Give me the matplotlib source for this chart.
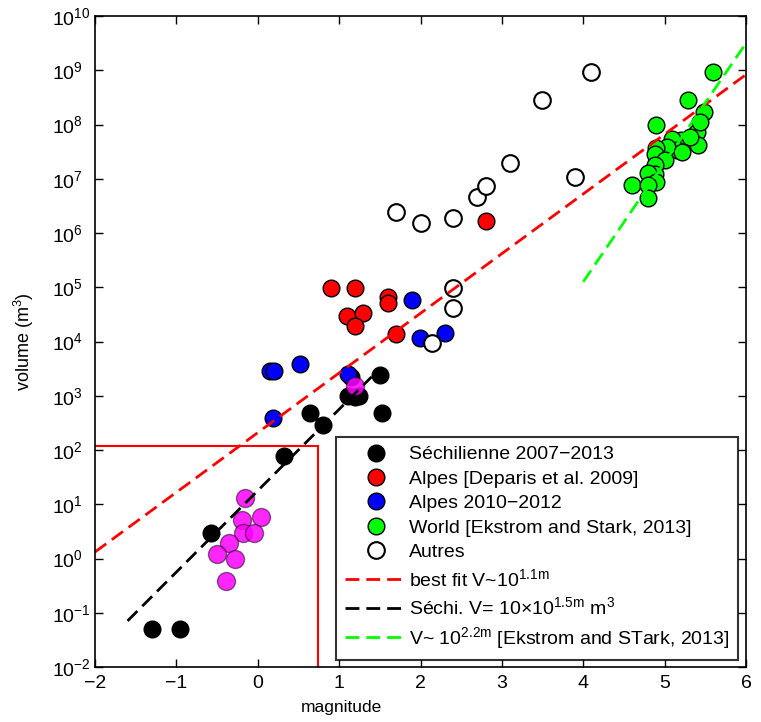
import numpy as np
import matplotlib
matplotlib.use('Agg')
import matplotlib.pyplot as plt
from matplotlib.lines import Line2D

plt.rcParams['font.family'] = ['Liberation Sans', 'DejaVu Sans']
plt.rcParams['mathtext.default'] = 'regular'

# Séchilienne 2007-2013 (black)
sech_m = [-1.3, -0.95, -0.57, 0.32, 0.64, 0.80, 1.14, 1.11, 1.20, 1.25, 1.50, 1.53]
sech_v = [0.05, 0.05, 3.0, 78, 480, 290, 2200, 1000, 950, 1000, 2400, 480]

# Alpes [Deparis et al. 2009] (red)
dep_m = [0.90, 1.19, 1.10, 1.29, 1.19, 1.60, 1.60, 1.70, 2.80]
dep_v = [9.8e4, 9.8e4, 2.95e4, 3.4e4, 1.95e4, 6.6e4, 5.1e4, 1.38e4, 1.66e6]

# Alpes 2010-2012 (blue)
alp_m = [0.15, 0.20, 0.52, 0.19, 1.11, 1.89, 1.99, 2.30]
alp_v = [2900, 2900, 3900, 390, 2500, 5.8e4, 1.15e4, 1.45e4]

# World [Ekstrom and Stark, 2013] (green)
world_m = [5.59, 5.29, 5.49, 4.89, 5.40, 5.41, 5.20, 5.09, 5.31, 5.15, 5.03, 4.90,
           4.88, 5.00, 5.21, 4.88, 4.88, 4.80, 4.90, 4.60, 4.80, 4.80, 5.43]
world_v = [9.3e8, 2.8e8, 1.7e8, 9.8e7, 7.3e7, 4.2e7, 5.1e7, 5.3e7, 5.9e7, 3.4e7, 3.9e7, 3.7e7,
           2.8e7, 2.2e7, 3.1e7, 1.8e7, 1.2e7, 1.3e7, 8.7e6, 7.6e6, 7.6e6, 4.4e6, 1.1e8]

# Autres (open)
aut_m = [2.40, 2.40, 2.14, 1.70, 2.00, 2.40, 2.69, 2.80, 3.10, 3.49, 4.09, 3.90]
aut_v = [9.8e4, 4.2e4, 9.3e3, 2.45e6, 1.5e6, 1.9e6, 4.6e6, 7.4e6, 1.95e7, 2.8e8, 9.3e8, 1.1e7]

# magenta points (no legend entry)
mag_m = [-0.16, -0.19, 0.04, -0.18, -0.05, -0.35, -0.50, -0.28, -0.39, 1.19]
mag_v = [13, 5.1, 5.9, 3.0, 3.0, 1.9, 1.2, 1.0, 0.39, 1500]

# fitted laws: log10(V) = a + b*m over [m0, m1]
fit_best = (2.32, 1.1, -2.0, 6.0)
fit_sechi = (1.25, 1.5, -1.6, 1.4)
fit_world = (-3.7, 2.2, 4.0, 6.0)

# red threshold box
m_thresh = 0.74
v_thresh = 118

fig = plt.figure(figsize=(7.61, 7.22), dpi=100)
ax = fig.add_axes([95 / 761, 55 / 722, 651 / 761, 651 / 722])

ms = 12
ax.plot(sech_m, sech_v, 'o', ls='none', mfc='k', mec='k', ms=ms, mew=1)
ax.plot(dep_m, dep_v, 'o', ls='none', mfc='r', mec='k', ms=ms, mew=1)
ax.plot(alp_m, alp_v, 'o', ls='none', mfc='b', mec='k', ms=ms, mew=1)
ax.plot(world_m, world_v, 'o', ls='none', mfc=(0, 1, 0), mec='k', ms=ms, mew=1)
ax.plot(aut_m, aut_v, 'o', ls='none', mfc='w', mec='k', ms=ms, mew=1.5)
ax.plot(mag_m, mag_v, 'o', ls='none', mfc=(1, 0, 1, 0.85), mec=(0, 0, 0, 0.5), ms=ms + 1, mew=1)

def law(p):
    a, b, m0, m1 = p
    m = np.array([m0, m1])
    return m, 10 ** (a + b * m)

dash = (5, 2.5)
m, v = law(fit_best)
ax.plot(m, v, color='r', lw=2, dashes=dash)
m, v = law(fit_sechi)
ax.plot(m, v, color='k', lw=2, dashes=dash)
m, v = law(fit_world)
ax.plot(m, v, color=(0, 1, 0), lw=2, dashes=dash)

ax.plot([-2, m_thresh], [v_thresh, v_thresh], color='r', lw=1.5)
ax.plot([m_thresh, m_thresh], [v_thresh, 1e-2], color='r', lw=1.5)

ax.set_yscale('log')
ax.set_xlim(-2, 6)
ax.set_ylim(1e-2, 1e10)
ax.set_xticks(range(-2, 7))
ax.set_yticks([10.0 ** k for k in range(-2, 11)])
ax.tick_params(which='both', direction='in', top=True, right=True, labelsize=14, width=1)
ax.tick_params(which='major', length=6)
ax.tick_params(which='minor', length=3)
ax.tick_params(axis='x', pad=6)
ax.tick_params(axis='y', pad=31)
for lab in ax.get_yticklabels():
    lab.set_ha('left')
for s in ax.spines.values():
    s.set_linewidth(1.2)

ax.set_xlabel('magnitude', fontsize=12.5)
ax.xaxis.set_label_coords((341 - 95) / 651, -0.05)
ax.set_ylabel('volume (m$^3$)', fontsize=13)
ax.yaxis.set_label_coords(-0.09, 0.5)

handles = [
    Line2D([], [], marker='o', ls='none', mfc='k', mec='k', ms=ms),
    Line2D([], [], marker='o', ls='none', mfc='r', mec='k', ms=ms),
    Line2D([], [], marker='o', ls='none', mfc='b', mec='k', ms=ms),
    Line2D([], [], marker='o', ls='none', mfc=(0, 1, 0), mec='k', ms=ms),
    Line2D([], [], marker='o', ls='none', mfc='w', mec='k', ms=ms, mew=1.5),
    Line2D([], [], color='r', lw=2, dashes=dash),
    Line2D([], [], color='k', lw=2, dashes=dash),
    Line2D([], [], color=(0, 1, 0), lw=2, dashes=dash),
]
labels = [
    'Séchilienne 2007−2013',
    'Alpes [Deparis et al. 2009]',
    'Alpes 2010−2012',
    'World [Ekstrom and Stark, 2013]',
    'Autres',
    'best fit V~10$^{1.1m}$',
    'Séchi. V= 10×10$^{1.5m}$ m$^3$',
    'V~ 10$^{2.2m}$ [Ekstrom and STark, 2013]',
]
leg = ax.legend(handles, labels, loc='lower right', bbox_to_anchor=(0.988, 0.011),
                fontsize=14, frameon=True, fancybox=False, edgecolor='k',
                handlelength=3.2, handletextpad=0.1, labelspacing=0.35,
                borderpad=0.45, borderaxespad=0)
leg.get_frame().set_linewidth(1.5)

fig.savefig('out.png', dpi=100)
